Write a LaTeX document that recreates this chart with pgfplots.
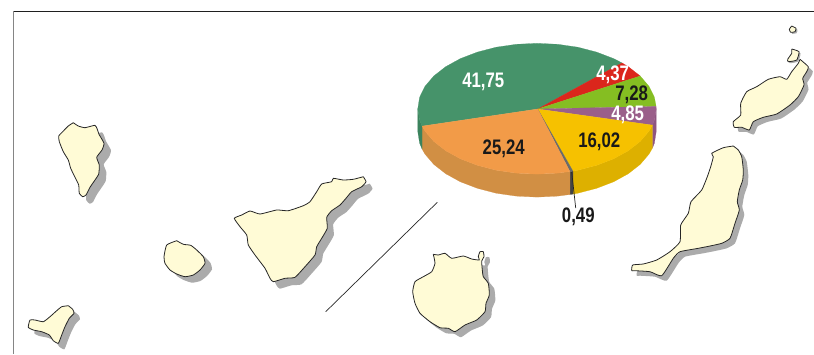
\documentclass[border=0pt]{standalone}
\usepackage{fontspec}
\setmainfont[FakeStretch=0.8]{Liberation Sans}
\usepackage{pgfplots}
\usepackage{pgfplotstable}
\pgfplotsset{compat=1.18}
\definecolor{cream}{HTML}{FFFBD6}
\definecolor{shadowgrey}{HTML}{ABABAB}
\definecolor{topgreen}{HTML}{46936A}
\definecolor{sidegreen}{HTML}{3B835D}
\definecolor{toporange}{HTML}{F29B48}
\definecolor{sideorange}{HTML}{D18F44}
\definecolor{topyellow}{HTML}{F6C100}
\definecolor{sideyellow}{HTML}{DDB000}
\definecolor{toppurple}{HTML}{9A5F8A}
\definecolor{sidepurple}{HTML}{8E5580}
\definecolor{topred}{HTML}{DB261C}
\definecolor{toplime}{HTML}{85BE22}
\definecolor{topgrey}{HTML}{6B6B6B}
\definecolor{sidegrey}{HTML}{444444}
\pgfplotstableread{
73.3 122.7
78.3 126
85 127.7
95 125.3
97.3 129.3
99 134.3
104 143.3
102 150
96.7 157.3
99.3 165
98.7 174
95 180
90 187.3
86 195
82.7 196.7
79.3 193.3
78.7 185
75 177.3
70.7 168.3
68.3 160
63.3 151.7
59.3 141.7
58.7 136
61.7 132.7
68.3 126
73.3 122.7
}\lapalma
\pgfplotstableread{
176.7 240.7
183.3 244.3
190.7 245.3
196.7 250
203.3 256.7
205 263.3
200 270
193.3 275
185 276.7
176.7 274
170 270
165 263.3
164 256.7
166.7 245
176.7 240.7
}\gomera
\pgfplotstableread{
68.3 305.7
72.7 309.3
74 313.3
69.3 318.3
65 326.7
61.7 335
58.3 343.3
53.3 340.7
49.3 335
41.7 331.7
33.3 330
28.3 327.3
30 320
35 320
43.3 321.7
50 316.7
56.7 310.7
61.7 306.7
68.3 305.7
}\hierro
\pgfplotstableread{
363.3 176.7
366 181.7
361.7 186.7
351.7 191.7
346 198.3
340 205
331.7 210.7
326.7 217.3
327.3 228.3
321.7 238.3
316.7 246.7
315 255
305 266.7
295 277.3
285 278.3
273.3 281.7
270 278.3
265 268.3
255 255
248.3 245
246.7 235
240 226.7
234.3 218.3
241.7 215
250 211
260 214
276.7 210
288.3 210.7
303.3 205.7
310 201.7
316.7 191.7
321.7 184
331.7 181.7
333.3 178.3
343.3 180
353.3 179.3
363.3 176.7
}\tenerife
\pgfplotstableread{
433.3 254.3
438.3 255
445 253.3
451.7 258.3
463.3 256
471.7 259
479.3 260
478.3 256.7
480 251.7
483.3 251.7
484 256.7
481.7 261
482.3 270
483.3 276.7
488.3 283.3
489.3 295
486 303.3
485 311.7
476.7 320
465 325
455 331.7
448.3 328.3
440 327.7
430 321.7
420 313.3
415 303.3
412.7 291.7
415 281.7
423.3 276.7
431.7 271.7
435 263.3
433.3 254.3
}\grancanaria
\pgfplotstableread{
733.3 146
738.3 150
741.7 156.7
743.3 170
742.7 180
739.3 190
737.3 201.7
739.3 210
735 223.3
730 238.3
721.7 243.3
710 246
698.3 248.3
680 251.7
673.3 258.3
661.7 275.7
650 271.7
635 270.7
631.7 270.7
632.7 265
643.3 264
656.7 260
670 251.7
680 241.7
680.7 225
688.3 213.3
691 201.7
701.7 190
707.3 176.7
710.7 166.7
713.3 156.7
711.7 153.3
723.3 147.7
733.3 146
}\fuerte
\pgfplotstableread{
800 59.3
808.3 66.7
806.7 71.7
802.7 78.3
804 85
798.3 96.7
790 105
776.7 114
763.3 117.3
753.3 121.7
749.3 130
741.7 127.3
734.3 127.3
733.3 121.7
740.7 115
740.7 103.3
746.7 91.7
756.7 86.7
768.3 79.3
780 76.7
786.7 79.3
791.7 71.7
798.3 63.3
800 59.3
}\lanzarote
\pgfplotstableread{
791.7 49
799 51.7
796.7 60
788.3 61.7
787.7 59.3
791.7 53.3
791.7 49
}\graciosa
\pgfplotstableread{
791.7 26
796 28.3
795 31.7
790.7 32.3
789.3 29.3
791.7 26
}\alegranza
\newcommand{\island}[3]{%
  \addplot[fill=shadowgrey,draw=none,smooth,tension=0.3] table[x expr=\thisrowno{0}+#2,y expr=\thisrowno{1}+#3] {#1};
  \addplot[fill=cream,draw=black!85,line width=0.8pt,line join=round,smooth,tension=0.3] table {#1};
}
\begin{document}
\begin{tikzpicture}
\begin{axis}[
  scale only axis,width=814pt,height=354pt,
  xmin=0,xmax=814,ymin=0,ymax=354,y dir=reverse,
  ticks=none,axis line style={draw=none},
  every axis plot/.append style={no markers,line join=round},
  clip=true,
]
% frame
\addplot[color=black!88,line width=1pt] coordinates {(14,11) (814,11)};
\addplot[color=black!48,line width=1.3pt] coordinates {(13.3,11) (13.3,354)};
% separator
\addplot[color=black!85,line width=0.7pt] coordinates {(437.3,202.3) (325.7,311.7)};
% islands
\island{\lapalma}{7}{7}
\island{\gomera}{7}{6}
\island{\hierro}{6}{6}
\island{\tenerife}{6.5}{7}
\island{\grancanaria}{6}{5.5}
\island{\fuerte}{5}{5}
\island{\lanzarote}{4.5}{4.5}
\island{\graciosa}{1.5}{1.5}
\island{\alegranza}{1.5}{1.5}
% pie side walls
\addplot[fill=sidepurple,draw=sidepurple,line width=0.2pt] coordinates {
(656.2,108.7)(654.4,120.1)(652.4,125.1)(652.4,148.1)(654.4,143.1)(656.2,131.7)(656.2,108.7)};
\addplot[fill=sideyellow,draw=sideyellow,line width=0.2pt] coordinates {
(652.4,125.1)(649,131.1)(640.2,141.4)(628.3,150.7)(613.6,158.8)(596.6,165.3)(577.8,170.2)(572.9,171.1)
(572.9,194.1)(577.8,193.2)(596.6,188.3)(613.6,181.8)(628.3,173.7)(640.2,164.4)(649,154.1)(652.4,148.1)(652.4,125.1)};
\addplot[fill=sidegrey,draw=sidegrey,line width=0.2pt] coordinates {
(572.9,171.1)(569.9,171.5)(569.9,194.5)(572.9,194.1)(572.9,171.1)};
\addplot[fill=sideorange,draw=sideorange,line width=0.2pt] coordinates {
(569.9,171.5)(557.7,173.1)(537,174.1)(516.3,173.1)(496.2,170.2)(477.4,165.3)(460.4,158.8)(445.7,150.7)(433.8,141.4)(425,131.1)(422.1,126.1)
(422.1,149.1)(425,154.1)(433.8,164.4)(445.7,173.7)(460.4,181.8)(477.4,188.3)(496.2,193.2)(516.3,196.1)(537,197.1)(557.7,196.1)(569.9,194.5)(569.9,171.5)};
\addplot[fill=sidegreen,draw=sidegreen,line width=0.2pt] coordinates {
(422.1,126.1)(419.6,120.1)(417.8,108.7)(417.8,131.7)(419.6,143.1)(422.1,149.1)(422.1,126.1)};
% pie top slices
\addplot[fill=topgreen,draw=topgreen,line width=0.2pt] coordinates {
(537.7,109)(422.1,126.1)(419.6,120.1)(417.8,108.7)(419.6,97.3)(425,86.3)(433.8,76)(445.7,66.7)(460.4,58.6)(477.4,52.1)(496.2,47.2)(516.3,44.3)(537,43.3)(557.7,44.3)(577.8,47.2)(596.6,52.1)(613.6,58.6)(622,62.9)(537.7,109)};
\addplot[fill=topred,draw=topred,line width=0.2pt] coordinates {
(537.7,109)(622,62.9)(628.3,66.7)(640.2,76)(537.7,109)};
\addplot[fill=toplime,draw=toplime,line width=0.2pt] coordinates {
(537.7,109)(640.2,76)(649,86.3)(654.4,97.3)(656.1,106.4)(537.7,109)};
\addplot[fill=toppurple,draw=toppurple,line width=0.2pt] coordinates {
(537.7,109)(656.1,106.4)(656.2,108.7)(654.4,120.1)(652.4,125.1)(537.7,109)};
\addplot[fill=topyellow,draw=topyellow,line width=0.2pt] coordinates {
(537.7,109)(652.4,125.1)(649,131.1)(640.2,141.4)(628.3,150.7)(613.6,158.8)(596.6,165.3)(577.8,170.2)(572.9,171.1)(537.7,109)};
\addplot[fill=topgrey,draw=topgrey,line width=0.2pt] coordinates {
(537.7,109)(572.9,171.1)(569.9,171.5)(537.7,109)};
\addplot[fill=toporange,draw=toporange,line width=0.2pt] coordinates {
(537.7,109)(569.9,171.5)(557.7,173.1)(537,174.1)(516.3,173.1)(496.2,170.2)(477.4,165.3)(460.4,158.8)(445.7,150.7)(433.8,141.4)(425,131.1)(422.1,126.1)(537.7,109)};
% leader
\addplot[color=black!85,line width=0.7pt] coordinates {(571.7,172) (575.7,208)};
% labels
\tikzset{lab/.style={font=\fontsize{21}{21}\selectfont\bfseries,inner sep=0pt,anchor=center}}
\node[lab,text=white] at (axis cs:483.3,82.3) {41,75};
\node[lab,text=white] at (axis cs:612.7,75) {4,37};
\node[lab,text=black!90] at (axis cs:631.7,95) {7,28};
\node[lab,text=white] at (axis cs:627.7,115) {4,85};
\node[lab,text=black!90] at (axis cs:599.3,141.7) {16,02};
\node[lab,text=black!90] at (axis cs:503.7,149) {25,24};
\node[lab,text=black!90] at (axis cs:578.3,216.7) {0,49};
\end{axis}
\end{tikzpicture}
\end{document}
